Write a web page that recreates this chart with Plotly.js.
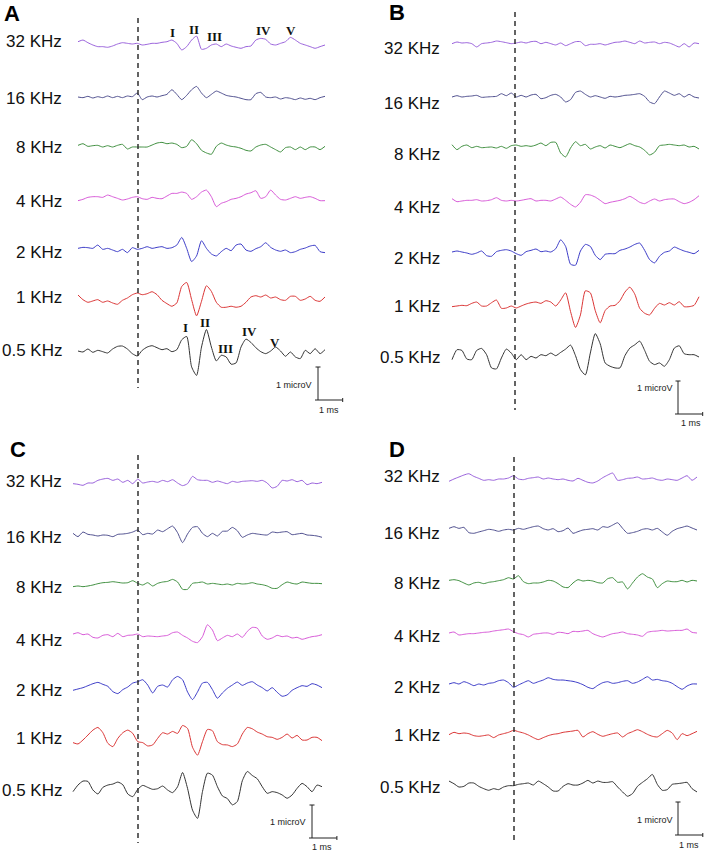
<!DOCTYPE html>
<html><head><meta charset="utf-8">
<script src="https://cdn.plot.ly/plotly-3.0.1.min.js"></script>
<style>html,body{margin:0;padding:0;background:#fff;}#chart{width:708px;height:853px;}</style>
</head><body><div id="chart"></div>
<script>
// ---- DATA ----
const timeMs = [-2.5,-2.3,-2.1,-1.9,-1.7,-1.5,-1.3,-1.1,-0.9,-0.7,-0.5,-0.3,-0.1,0.1,0.3,0.5,0.7,0.9,1.1,1.3,1.5,1.7,1.9,2.1,2.3,2.5,2.7,2.9,3.1,3.3,3.5,3.7,3.9,4.1,4.3,4.5,4.7,4.9,5.1,5.3,5.5,5.7,5.9,6.1,6.3,6.5,6.7,6.9,7.1,7.3,7.5];
const freqLabels = ['32 KHz','16 KHz','8 KHz','4 KHz','2 KHz','1 KHz','0.5 KHz'];
const panelLetters = ['A','B','C','D'];
const peakNames = ['I','II','III','IV','V'];
const scaleTexts = ['1 microV','1 ms'];

// Panel A (microvolts)
const A_32k = [0.07,0.12,0.04,-0.03,-0.08,-0.08,-0.10,-0.06,0,0.04,0.02,0,0.02,-0.03,-0.01,0.02,0.02,0.05,0.07,0.12,0.02,-0.18,-0.08,0.12,0.24,-0.16,-0.13,-0.03,0,-0.08,0,-0.06,-0.10,-0.13,-0.08,-0.06,0.12,0.17,0.14,0,-0.03,0.02,0.07,0.20,0.12,0.02,-0.03,-0.08,-0.13,-0.08,-0.03];
const A_16k = [0,-0.02,0.02,-0.03,0.01,-0.02,0.03,-0.02,0.02,-0.02,0.03,0.01,0.12,-0.08,0,0.03,0,0.04,0.08,0.22,0.08,-0.08,0.05,0.22,0.32,0.12,-0.02,0.08,0.18,0.12,0.05,0.02,0,-0.04,-0.08,-0.08,0.10,0.14,0,-0.02,0,-0.06,-0.02,-0.04,-0.08,-0.03,-0.07,-0.04,-0.08,-0.02,0.02];
const A_8k = [0.05,0.10,0.02,0.04,0.05,0,0.04,0,0.05,0.08,-0.06,0,0,0,0,0.06,0.12,0.14,0.10,0.12,0.08,-0.02,0.02,0.22,0.10,-0.10,-0.18,-0.22,0.02,0.12,0.06,0.02,0,-0.04,-0.10,-0.12,0,0.06,0.08,0,-0.08,-0.15,-0.02,0,-0.08,0,-0.08,0,0,-0.08,0.02];
const A_4k = [-0.02,0.02,0.08,0.10,0.10,0.08,0.15,0.10,0.05,0,0.03,0.08,0.10,0.04,0.02,0.08,0.05,0.04,0.12,0.20,0.20,0.24,0.20,0.02,0.10,0.24,0.30,0.10,-0.20,-0.10,-0.05,0.02,0.05,0.10,0.18,0.22,0.28,0.05,0.10,0.30,0.15,0.02,0,0.05,0.10,0.05,0.08,0.10,0.05,-0.02,-0.02];
const A_2k = [0.05,0.08,0.07,0.05,0.15,0.02,0.05,0,-0.05,0.02,-0.08,0.07,0.02,0.05,0.10,0.05,0.08,0.10,0.05,0.07,0.15,0.38,0.05,-0.35,-0.18,0.28,0.05,-0.12,-0.18,-0.05,0.05,-0.02,0.15,0.18,0,-0.04,0.04,0.10,0.22,0.08,0,-0.04,0,-0.08,-0.05,0.02,0.06,0.12,0.14,-0.05,-0.08];
const A_1k = [0.09,-0.05,-0.13,-0.09,-0.05,-0.13,-0.09,-0.15,-0.19,-0.07,0,0.10,0.15,0.10,0.13,0.19,0.10,-0.07,-0.17,-0.25,-0.15,0.35,0.47,-0.05,-0.54,-0.10,0.37,0.20,-0.13,-0.28,-0.28,-0.25,-0.28,-0.25,-0.13,0.03,0.07,0.03,0.09,0,0.03,-0.05,-0.07,0.05,0.05,-0.07,-0.03,0.05,-0.07,-0.10,0.03];
const A_05k = [0,-0.03,0.06,-0.04,0.02,-0.02,-0.06,0.06,0.14,0.15,0.06,-0.08,-0.15,0.02,0.12,0.16,0.10,0.04,0.07,-0.02,0.04,0.34,0.44,-0.48,-0.74,0.12,0.65,0.12,-0.30,-0.13,-0.18,-0.40,-0.36,0.12,0.36,0.26,0.10,-0.02,-0.08,0,0.12,0,-0.16,-0.03,-0.18,-0.23,0.02,-0.08,0.07,-0.08,0.04];

// Panel B
const B_32k = [-0.02,0.03,0,0.01,-0.02,-0.12,-0.02,0,0.02,0.06,0.04,0.01,-0.02,0,0.03,0,0.04,0.05,-0.02,0.02,-0.02,-0.06,0,-0.08,-0.02,0.04,0.04,-0.08,-0.04,-0.04,-0.02,-0.06,-0.02,0.02,0.03,0.06,0.02,-0.02,0.06,0,0.02,0.03,-0.02,0.02,0,-0.06,-0.12,-0.02,-0.12,0,-0.02];
const B_16k = [0,0.04,0,0.02,0.03,0.05,-0.01,0,0.01,0.02,0.10,0.04,0.12,0,0.05,0,0.06,0.08,-0.05,-0.02,0.05,0.08,0,-0.15,-0.08,0.14,0.18,0.08,0,0.04,0,-0.04,0.02,0,0.02,0.05,0.06,0.08,0.10,0.02,-0.15,-0.20,0,0.18,0.12,0.05,0.10,0,0.08,0,-0.03];
const B_8k = [0.07,-0.08,0.02,0.06,-0.02,0.02,-0.02,-0.01,0,-0.03,0.02,-0.04,0.04,0.06,0.02,0.04,0.02,0.06,0.12,0.04,0.14,0.14,-0.18,-0.30,-0.03,0.16,0.04,0.08,-0.06,0,0.04,-0.03,0.06,0.02,-0.02,0.04,0.10,0.04,0,-0.10,-0.24,-0.16,0.04,0.06,0.08,0.06,0.04,0.06,0,0.02,-0.06];
const B_4k = [0.07,-0.02,0,0.02,0.02,0.04,0,0.01,0.04,0.10,0.02,0,0.02,0,0.02,0.05,0.07,0,0.02,0.02,0,0.06,0.12,0.02,-0.10,-0.18,-0.04,0.19,0.18,0.12,0.02,-0.08,-0.04,-0.01,0.02,0.07,0.14,0.06,-0.04,-0.08,0,0.06,0,0.04,0.06,0.06,-0.02,-0.08,-0.04,0.04,0.16];
const B_2k = [0,0.03,0,-0.03,-0.07,-0.03,0.03,-0.11,-0.13,0.01,0.05,0.07,0.03,-0.05,-0.10,0.01,0.05,0.09,0.01,0.03,0,0.10,0.37,0.17,-0.37,-0.40,0.03,0.23,0.17,-0.10,-0.23,-0.07,-0.05,-0.05,0.05,0.09,0.15,0.23,0.27,0.05,-0.23,-0.33,-0.13,-0.01,0.03,0.15,0.09,0.03,-0.01,-0.05,0.05];
const B_1k = [-0.02,0,0.02,0.01,0.08,0.12,0,0,0.10,0.18,-0.07,-0.06,0,-0.06,0,0.06,0.10,0.12,0.08,0.16,0.12,0,0.18,0.40,-0.17,-0.65,-0.27,0.46,0.40,-0.14,-0.51,-0.14,0,0.02,0.16,0.42,0.57,0.36,-0.07,-0.22,-0.27,-0.07,0.08,0.03,0.10,0.03,0.13,-0.02,-0.02,0.02,0.28];
const B_05k = [-0.05,0.25,0.23,-0.03,-0.05,0.23,0.29,0.10,-0.30,-0.33,0,0.27,0.15,-0.05,0.10,-0.05,0.05,0,0.10,0.07,0.15,0.07,0.17,0.27,0.39,0.07,-0.35,-0.51,0.15,0.74,0.43,-0.15,-0.25,-0.30,-0.30,0.07,0.30,0.40,0.51,0.23,-0.10,-0.20,-0.15,-0.25,-0.05,0.30,0.37,0.13,0.10,0.10,0.03];

// Panel C
const C_32k = [-0.02,-0.04,-0.07,0,0,0.08,0.12,0.14,0.08,0.12,0.02,0.08,-0.02,0.12,0,0.03,0.05,0.02,0.08,0.04,0.10,0,-0.08,-0.02,0.20,0.10,0.08,0.08,0.02,0.06,0.02,-0.02,0.05,0.02,0.05,0.06,0.07,0.05,0.08,0,-0.15,-0.10,0.08,0.06,0.10,0.04,0.08,-0.05,0,-0.02,0.02];
const C_16k = [0.05,-0.05,0.09,0.02,0,-0.03,0,-0.01,-0.05,0.02,0.03,0.05,0.09,0.15,0.01,0.05,0.03,0.15,0.10,0.19,0.27,0.07,-0.23,0.03,0.23,0.25,0.05,-0.05,0.05,-0.03,0.11,0.12,0.23,0.13,-0.07,0,0.05,0.03,0.01,0,0.09,0.07,0.09,0.10,0.01,0.03,0.05,0,-0.01,-0.03,-0.07];
const C_8k = [-0.05,-0.03,-0.05,-0.03,0,0.04,0.07,0.08,0.10,0.08,0.06,0.07,0.13,0.05,0,0.07,-0.03,0.05,0.09,0.11,0.17,0.09,-0.13,-0.13,0.05,0.07,0.09,0.03,0.05,0.03,0.01,0.03,0,0.05,0.03,0.04,0.07,0.03,0.01,-0.03,-0.10,-0.10,0.01,0.09,0.05,0.03,0.09,0.07,0.05,0.05,0.04];
const C_4k = [0.06,0.10,0.04,0.06,-0.04,-0.06,0.02,0.04,-0.02,0.08,-0.02,0.02,0.03,0.06,-0.02,0,-0.01,-0.02,0,0.02,0.10,0.12,0.02,-0.06,-0.16,-0.20,-0.02,0.34,0.18,-0.14,-0.06,0.02,-0.02,0.06,-0.04,0.14,0.26,0.24,0,-0.10,-0.06,0.02,-0.02,0,-0.06,-0.04,-0.10,-0.06,-0.02,0,0.04];
const C_2k = [-0.10,-0.06,-0.02,0.04,0.10,0.14,0.08,0.02,-0.14,-0.20,-0.08,0,0.12,0.16,0.22,0.06,-0.18,0.02,0.06,0,0.22,0.32,0.22,-0.15,-0.38,-0.15,0.12,0.14,-0.08,-0.34,-0.18,-0.04,0.06,0.15,0.05,0.12,0.16,0.06,-0.02,-0.12,-0.02,-0.16,-0.28,-0.24,-0.10,-0.02,0.04,0.02,0.10,0.06,-0.02];
const C_1k = [-0.08,-0.12,0,0.15,0.30,0.38,0.22,-0.10,-0.20,0.05,0.22,0.30,0.20,-0.05,-0.08,-0.18,-0.15,0.05,0.22,0.18,0.26,0.20,0.44,0.35,-0.22,-0.46,-0.05,0.32,0.28,-0.05,-0.14,-0.15,-0.20,-0.12,0.18,0.38,0.34,0.24,0.18,0.10,0.08,0.02,0.08,0.18,0.06,0.14,0,0,0.08,0.08,-0.02];
const C_05k = [-0.05,0.15,0.27,0.26,0,-0.12,0.08,0.15,0.18,0.24,0.16,-0.12,-0.20,0.02,0.14,0.08,0.02,0.04,0.12,0,-0.08,0.10,0.53,0.05,-0.61,-0.86,-0.05,0.51,0.45,0.10,-0.18,-0.26,-0.45,-0.35,0.28,0.56,0.44,0.34,0.10,-0.10,-0.05,-0.08,-0.15,-0.25,-0.15,0.05,0.20,0.10,-0.05,0.15,0.10];

// Panel D
const D_32k = [-0.07,0,0.06,0.12,0.16,0.08,0.02,-0.04,-0.02,-0.04,0,0,0.03,0.10,0,-0.02,0.02,0.04,0.06,0,0.03,0,-0.02,0,-0.04,-0.06,0.02,-0.04,-0.10,-0.12,-0.06,0.04,0.12,0.18,-0.04,-0.02,0.02,0.03,0.06,0,0.01,0.03,-0.02,-0.04,0,-0.02,-0.04,0.03,0.10,-0.04,0.06];
const D_16k = [0.05,0.10,0.05,0.08,-0.08,-0.10,-0.06,-0.02,0.02,0,-0.04,0,0.02,0,0.05,0.02,0.06,0.10,0.12,0.04,0,0.04,-0.05,-0.02,0.06,-0.10,-0.05,0,0.02,0.04,0,0.10,0.08,0.15,0.22,0.05,-0.10,-0.08,-0.04,0.02,0.04,0,0.05,-0.06,-0.16,-0.04,0.04,0.08,0.12,0.06,0];
const D_8k = [0.02,0.04,0.01,-0.06,-0.12,-0.06,-0.04,-0.08,-0.04,-0.02,0.01,0.04,0.10,0.06,0.16,-0.02,-0.08,-0.06,-0.06,-0.03,0.02,0,-0.08,-0.18,-0.20,-0.06,0.04,0,0.02,0,-0.05,-0.06,0.07,0.10,-0.04,-0.03,-0.24,-0.06,0.12,0.22,0.12,0.06,-0.20,-0.08,0,-0.02,-0.02,0.02,-0.03,0.02,0];
const D_4k = [0,0.03,-0.06,-0.04,-0.02,-0.02,0,0.02,0.03,0.06,0.08,0.10,0.12,0.04,-0.02,-0.05,-0.12,-0.04,-0.02,0,0,-0.04,0.02,0.01,-0.02,0.05,0.04,0.06,0.08,-0.02,-0.08,-0.12,-0.07,-0.02,0,0.03,-0.02,-0.04,-0.06,-0.10,0.02,0.05,0.06,0.08,0.06,0.07,0.08,0.08,0.12,0.02,0];
const D_2k = [0,0.04,0,0.07,0.02,-0.05,0,-0.03,0.02,0.04,0.10,0.12,0.04,-0.10,-0.03,0.04,0.10,0.02,0.07,0.12,0.19,0.14,0.12,0.12,0.10,0.08,0.04,-0.02,-0.10,-0.14,-0.04,0.04,0.07,0.02,0.04,0.08,0.10,0.02,0.06,0.14,0.22,0.12,0.14,0.10,0.08,0.02,-0.08,-0.16,-0.06,0,0];
const D_1k = [-0.05,0.02,-0.02,0,-0.02,-0.08,-0.10,-0.08,-0.06,-0.14,-0.06,-0.02,0.02,0.08,0.04,0,-0.06,-0.14,-0.20,-0.14,-0.08,-0.04,-0.02,0.02,0.04,0.06,0.08,-0.12,-0.02,0.04,-0.04,-0.10,-0.06,-0.02,0,-0.12,-0.02,0.04,0.10,0.04,-0.04,-0.10,-0.12,-0.02,0.08,0,-0.20,-0.02,-0.08,-0.02,0.05];
const D_05k = [0.18,0.10,0,0.02,0.12,0.12,0.02,-0.05,-0.10,-0.05,-0.08,0,0.04,0.04,0.08,0.10,0.12,0.06,0.18,0.10,0,-0.12,-0.12,0.02,0.10,0.06,0.06,0.12,0.20,0.12,0.18,0.14,0.14,0.16,0,-0.15,-0.28,-0.20,0.02,0.14,0.25,0.38,0.08,-0.10,-0.08,0.08,0.10,0.12,0.14,-0.05,-0.15];

// ---- LAYOUT / STYLE ----
const W = 708, H = 853, PXUV = 33;
const rowColors = ['#9a62dc','#50508f','#3f8f3f','#d85ad8','#3c3cc8','#db3535','#333333'];
const labelFont = {family:'Liberation Sans, Arial, sans-serif', size:17, color:'#111'};
const panels = [
  {series:[A_32k,A_16k,A_8k,A_4k,A_2k,A_1k,A_05k], dom:[0,354], x0:78, x1:325,
   base:[44,97,147,200,250,298,351], labY:[42,98,147,201,252,298,351], labRight:64,
   letter:[12,13], dashX:138, dashY:[18,388], bar:[318,400], barTxt:[[294,385],[329,410]]},
  {series:[B_32k,B_16k,B_8k,B_4k,B_2k,B_1k,B_05k], dom:[354,708], x0:452, x1:699,
   base:[43,97,147,201,252,306,358], labY:[48,104,154,207,258,306,357], labRight:442,
   letter:[397,12], dashX:515, dashY:[12,410], bar:[678,414], barTxt:[[655,388],[691,423]]},
  {series:[C_32k,C_16k,C_8k,C_4k,C_2k,C_1k,C_05k], dom:[0,354], x0:73, x1:322,
   base:[483,535,585,636,687,740,790], labY:[481,537,587,640,690,738,790], labRight:64,
   letter:[18,450], dashX:138, dashY:[455,843], bar:[312,838], barTxt:[[288,822],[322,847]]},
  {series:[D_32k,D_16k,D_8k,D_4k,D_2k,D_1k,D_05k], dom:[354,708], x0:449, x1:697,
   base:[479,530,581,633,684,733,787], labY:[477,533,583,636,687,735,787], labRight:442,
   letter:[397,450], dashX:514, dashY:[457,843], bar:[678,835], barTxt:[[655,820],[689,845]]}
];
// peak label pixel centres (panel A)
const peakTop = [[172,33],[194,29],[214,36],[263,31],[291,30]];
const peakBottom = [[185,327],[205,322],[225,349],[249,332],[275,342]];

const px = x => x / W, py = y => 1 - y / H;
const traces = [], annotations = [], shapes = [];
const layout = {
  width: W, height: H, margin:{l:0,r:0,t:0,b:0,pad:0},
  paper_bgcolor:'#fff', plot_bgcolor:'rgba(0,0,0,0)', showlegend:false, hovermode:false,
  yaxis:{domain:[0,1], range:[-H/PXUV, 0], visible:false, fixedrange:true}
};
const tFirst = timeMs[0], tLast = timeMs[timeMs.length-1];

panels.forEach((p, k) => {
  const axName = k === 0 ? 'x' : 'x' + (k+1);
  const axKey = k === 0 ? 'xaxis' : 'xaxis' + (k+1);
  const pxms = (p.x1 - p.x0) / (tLast - tFirst);
  layout[axKey] = {domain:[p.dom[0]/W, p.dom[1]/W],
    range:[tFirst - (p.x0 - p.dom[0]) / pxms, tFirst + (p.dom[1] - p.x0) / pxms],
    visible:false, anchor:'y', fixedrange:true};
  p.series.forEach((vals, r) => {
    traces.push({x: timeMs, y: vals.map(v => v - p.base[r] / PXUV), xaxis: axName, yaxis: 'y',
      type:'scatter', mode:'lines', hoverinfo:'skip',
      line:{color: rowColors[r], width: 1, shape:'spline', smoothing:0.6}});
    annotations.push({text: freqLabels[r], xref:'paper', yref:'paper', x: px(p.labRight), y: py(p.labY[r]),
      xanchor:'right', yanchor:'middle', showarrow:false, font: labelFont});
  });
  annotations.push({text:'<b>' + panelLetters[k] + '</b>', xref:'paper', yref:'paper',
    x: px(p.letter[0]), y: py(p.letter[1]), xanchor:'center', yanchor:'middle', showarrow:false,
    font:{family:'Liberation Sans, Arial, sans-serif', size:22, color:'#000'}});
  // stimulus onset dashed line
  shapes.push({type:'line', xref:'paper', yref:'paper', x0: px(p.dashX), x1: px(p.dashX),
    y0: py(p.dashY[0]), y1: py(p.dashY[1]), line:{color:'#222', width:1.4, dash:'5px,4px'}});
  // scale bar: 1 microV vertical, 1 ms horizontal (data units)
  const bx = tFirst + (p.bar[0] - p.x0) / pxms, by = -p.bar[1] / PXUV;
  const L = {color:'#222', width:1};
  shapes.push({type:'line', xref:axName, yref:'y', x0:bx, x1:bx, y0:by, y1:by+1, line:L});
  shapes.push({type:'line', xref:axName, yref:'y', x0:bx-2.5/pxms, x1:bx+2.5/pxms, y0:by+1, y1:by+1, line:L});
  shapes.push({type:'line', xref:axName, yref:'y', x0:bx-3/pxms, x1:bx+1, y0:by, y1:by, line:L});
  shapes.push({type:'line', xref:axName, yref:'y', x0:bx+1, x1:bx+1, y0:by-2/PXUV, y1:by+2/PXUV, line:L});
  scaleTexts.forEach((s, j) => annotations.push({text:s, xref:'paper', yref:'paper',
    x: px(p.barTxt[j][0]), y: py(p.barTxt[j][1]), xanchor:'center', yanchor:'middle', showarrow:false,
    font:{family:'Liberation Sans, Arial, sans-serif', size:9, color:'#222'}}));
});

[peakTop, peakBottom].forEach(set => set.forEach((pt, j) => annotations.push({
  text:'<b>' + peakNames[j] + '</b>', xref:'paper', yref:'paper', x: px(pt[0]), y: py(pt[1]),
  xanchor:'center', yanchor:'middle', showarrow:false,
  font:{family:'Liberation Serif, Times New Roman, serif', size:13, color:'#111'}})));

layout.annotations = annotations;
layout.shapes = shapes;
Plotly.newPlot('chart', traces, layout, {staticPlot:true, displayModeBar:false});
</script></body></html>
